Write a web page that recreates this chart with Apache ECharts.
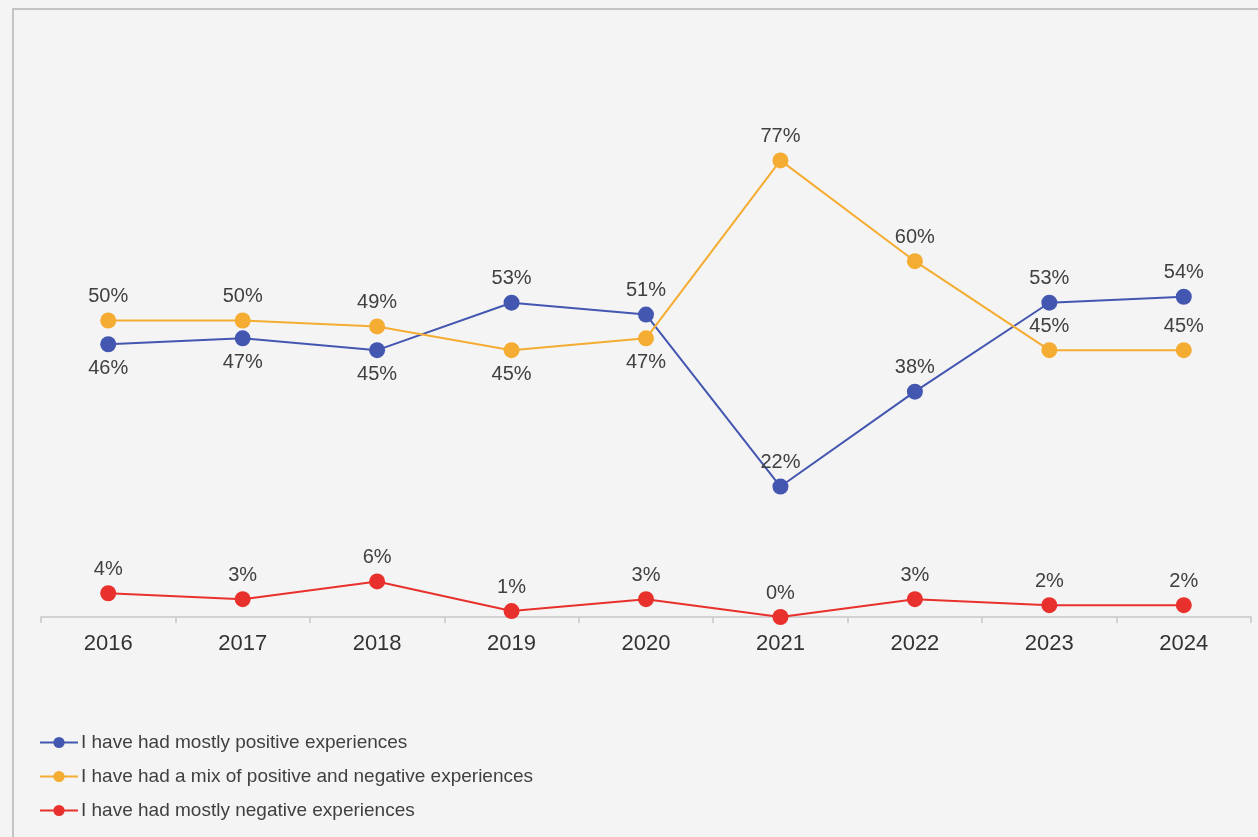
<!DOCTYPE html>
<html>
<head>
<meta charset="utf-8">
<script src="https://cdn.jsdelivr.net/npm/echarts@6/dist/echarts.min.js"></script>
<style>
  html, body { margin: 0; padding: 0; background: #f4f4f4; }
  #chart { width: 1258px; height: 837px; }
</style>
</head>
<body>
<div id="chart"></div>
<script>
// Survey years
const years = ['2016', '2017', '2018', '2019', '2020', '2021', '2022', '2023', '2024'];

// Share of respondents (%) per answer
const mostlyPositive = [46, 47, 45, 53, 51, 22, 38, 53, 54];
const mixed = [50, 50, 49, 45, 47, 77, 60, 45, 45];
const mostlyNegative = [4, 3, 6, 1, 3, 0, 3, 2, 2];

const seriesNames = [
  'I have had mostly positive experiences',
  'I have had a mix of positive and negative experiences',
  'I have had mostly negative experiences'
];

// Which side of the point each value label sits on
const positiveLabelSide = ['bottom', 'bottom', 'bottom', 'top', 'top', 'top', 'top', 'top', 'top'];
const mixedLabelSide = ['top', 'top', 'top', 'bottom', 'bottom', 'top', 'top', 'top', 'top'];
const negativeLabelSide = ['top', 'top', 'top', 'top', 'top', 'top', 'top', 'top', 'top'];

const colors = ['#4356b0', '#f5ac32', '#e8312c'];

function withLabels(values, sides) {
  return values.map((v, i) => ({ value: v, label: { position: sides[i] } }));
}

function lineSeries(name, values, sides, color) {
  return {
    name: name,
    type: 'line',
    data: withLabels(values, sides),
    symbol: 'circle',
    symbolSize: 16,
    itemStyle: { color: color },
    lineStyle: { color: color, width: 2 },
    emphasis: { disabled: true },
    label: {
      show: true,
      formatter: '{c}%',
      fontFamily: 'Liberation Sans, Arial, sans-serif',
      fontSize: 20,
      color: '#404040',
      distance: 6
    },
    animation: false
  };
}

const chart = echarts.init(document.getElementById('chart'));
chart.setOption({
  backgroundColor: '#f4f4f4',
  color: colors,
  graphic: [{
    type: 'rect',
    shape: { x: 13, y: 9, width: 1300, height: 900 },
    style: { fill: 'none', stroke: '#c4c4c4', lineWidth: 2 },
    silent: true
  }],
  grid: { left: 41, right: 7, top: 24, bottom: 220, containLabel: false },
  xAxis: {
    type: 'category',
    data: years,
    boundaryGap: true,
    axisLine: { lineStyle: { color: '#d2d2d2', width: 2 } },
    axisTick: { show: true, alignWithLabel: false, length: 6, lineStyle: { color: '#d2d2d2', width: 2 } },
    axisLabel: {
      fontFamily: 'Liberation Sans, Arial, sans-serif',
      fontSize: 22,
      color: '#333333',
      margin: 16
    },
    splitLine: { show: false }
  },
  yAxis: {
    type: 'value',
    min: 0,
    max: 100,
    show: false,
    splitLine: { show: false }
  },
  legend: {
    orient: 'vertical',
    left: 34,
    top: 728,
    itemWidth: 38,
    itemHeight: 14,
    itemGap: 15,
    textStyle: {
      fontFamily: 'Liberation Sans, Arial, sans-serif',
      fontSize: 19,
      color: '#404040',
      padding: [0, 0, 0, -2]
    },
    data: seriesNames
  },
  series: [
    lineSeries(seriesNames[0], mostlyPositive, positiveLabelSide, colors[0]),
    lineSeries(seriesNames[1], mixed, mixedLabelSide, colors[1]),
    lineSeries(seriesNames[2], mostlyNegative, negativeLabelSide, colors[2])
  ]
});
</script>
</body>
</html>
